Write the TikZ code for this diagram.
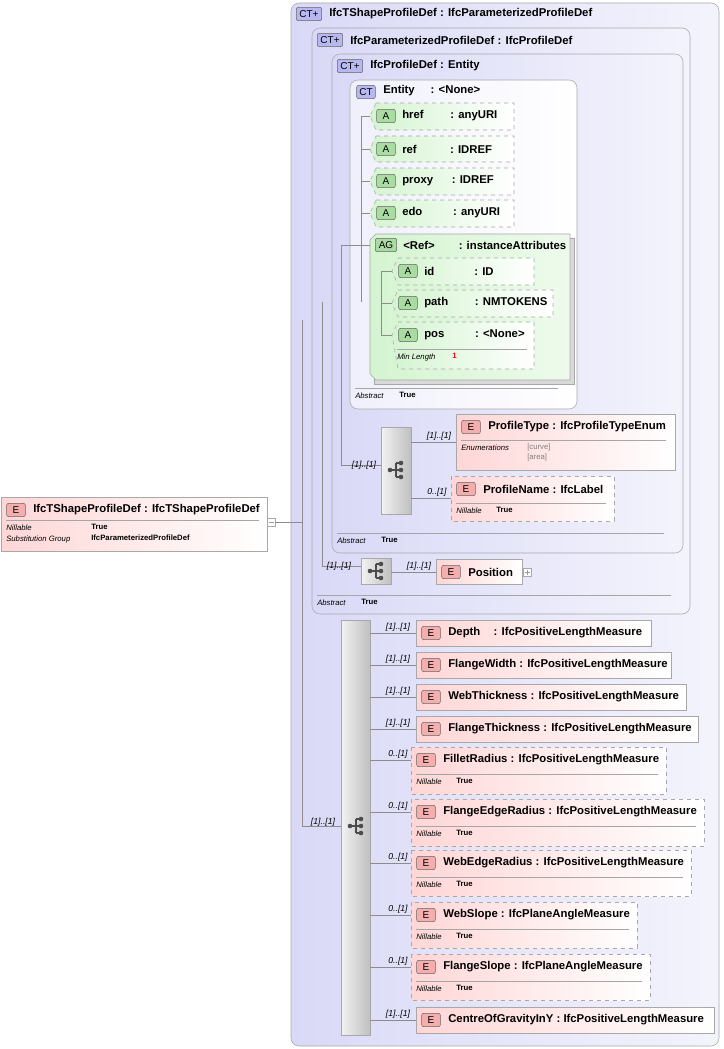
\documentclass[tikz,border=0pt]{standalone}
\usepackage{fontspec}
\setmainfont{Liberation Sans}
\usetikzlibrary{calc}
\definecolor{ctfill}{HTML}{D9D9F7}
\definecolor{efill}{HTML}{FFD6D6}
\definecolor{afill}{HTML}{D4F4D0}
\definecolor{bord}{HTML}{A8A8A8}
\definecolor{ctbadge}{HTML}{B8B8F0}
\definecolor{ebadge}{HTML}{F4AEAE}
\definecolor{abadge}{HTML}{A8DCA0}
\tikzset{
  ct/.style={draw=bord, rounded corners=6pt, left color=ctfill, right color=white!70!ctfill},
  ctw/.style={draw=bord, rounded corners=6pt, left color=ctfill!40, right color=white},
  el/.style={draw=bord, left color=efill, right color=white},
  eld/.style={el, dashed},
  attrb/.style={draw=bord, dashed, left color=afill, right color=white},
  agrp/.style={draw=bord, left color=afill, right color=white!60!afill},
  sq/.style={draw=bord, left color=black!5, right color=black!25},
  badge/.style={draw=black!60, rounded corners=1.5pt, minimum width=14pt, minimum height=10pt, inner sep=0pt, font=\fontsize{7.5}{8}\selectfont},
  ttl/.style={anchor=west, inner sep=0pt, font=\bfseries\fontsize{8.5}{10}\selectfont},
  sm/.style={anchor=west, inner sep=0pt, font=\itshape\fontsize{5.8}{7}\selectfont},
  smb/.style={anchor=west, inner sep=0pt, font=\bfseries\fontsize{5.8}{7}\selectfont},
  mult/.style={inner sep=0pt, font=\itshape\fontsize{6.5}{7}\selectfont},
  ln/.style={draw=black!45, line width=0.5pt},
  sep/.style={draw=black!35, line width=0.4pt},
}
% element box: id, x1, y1, x2, y2, style, title
\newcommand\elt[7]{%
  \path[#6] (#2,#3) rectangle (#4,#5);
  \coordinate (#1) at (#2,{(#3+#5)/2});
  \coordinate (#1w) at (#2,#3+13);
  \node[badge, fill=ebadge] at (#2+15,#3+13) {E};
  \node[ttl] at (#2+32,#3+13) {#7};}
\newcommand\nil[3]{% x1, y1, x2
  \draw[sep] (#1+5,#2+27) -- (#3-8,#2+27);
  \node[sm] at (#1+5,#2+35) {Nillable};
  \node[smb] at (#1+45,#2+34) {True};}
\newcommand\attr[6]{% id x1 y1 x2 y2 title
  \path[attrb] (#2+6,#3) -- (#4,#3) -- (#4,#5) -- (#2+6,#5) -- (#2,#3+13) -- cycle;
  \coordinate (#1) at (#2,#3+13);
  \node[badge, fill=abadge] at (#2+16,#3+13) {A};
  \node[ttl] at (#2+32,#3+13) {#6};}
\newcommand\seqicon[1]{%
  \begin{scope}[shift={(#1)}]
    \draw[black!70, line width=0.8pt] (-6,0) -- (0,0) (0,-7) -- (0,7) (0,-7) -- (5,-7) (0,0) -- (5,0) (0,7) -- (5,7);
    \fill[black!70] (-6,0) circle (2.3) (5,-7) circle (2.3) (5,0) circle (2.3) (5,7) circle (2.3);
  \end{scope}}
\begin{document}
\begin{tikzpicture}[x=0.75pt, y=-0.75pt]
\useasboundingbox (0,0) rectangle (724,1049);
% nested complex types
\path[ct] (291,3) rectangle (719,1046);
\node[badge, fill=ctbadge, minimum width=19pt] at (309,14) {CT+};
\node[ttl] at (329,14) {IfcTShapeProfileDef : IfcParameterizedProfileDef};
\path[ct] (312,28) rectangle (690,614);
\node[badge, fill=ctbadge, minimum width=19pt] at (330,40) {CT+};
\node[ttl] at (350,40) {IfcParameterizedProfileDef : IfcProfileDef};
\draw[sep] (317,595) -- (671,595);
\node[sm] at (317,603) {Abstract};
\node[smb] at (361,602) {True};
\path[ct] (332,54) rectangle (683,553);
\node[badge, fill=ctbadge, minimum width=19pt] at (350,66) {CT+};
\node[ttl] at (370,66) {IfcProfileDef : Entity};
\draw[sep] (337,533) -- (664,533);
\node[sm] at (337,541) {Abstract};
\node[smb] at (381,540) {True};
\path[ctw] (350,80) rectangle (577,409);
\node[badge, fill=ctbadge] at (366,92) {CT};
\node[ttl] at (383,91) {Entity\hspace{12pt}: <None>};
\draw[sep] (355,388) -- (558,388);
\node[sm] at (355,396) {Abstract};
\node[smb] at (399,395) {True};
% attributes
\attr{href}{370}{103}{514}{130}{href\hspace{20pt}: anyURI}
\attr{ref}{370}{136}{514}{162}{ref\hspace{25pt}: IDREF}
\attr{proxy}{370}{168}{514}{195}{proxy\hspace{14pt}: IDREF}
\attr{edo}{370}{200}{514}{227}{edo\hspace{23pt}: anyURI}
\path[draw=bord, fill=black!15] (374,238) rectangle (574,384);
\path[agrp] (376,234) -- (570,234) -- (570,380) -- (376,380) -- (370,374) -- (370,240) -- cycle;
\coordinate (ag) at (370,245);
\node[badge, fill=abadge, minimum width=16pt] at (386,245) {AG};
\node[ttl] at (403,245) {<Ref>\hspace{18pt}: instanceAttributes};
\attr{id}{392}{258}{534}{285}{id\hspace{30pt}: ID}
\attr{path}{392}{290}{553}{317}{path\hspace{20pt}: NMTOKENS}
\attr{pos}{392}{322}{534}{369}{pos\hspace{23pt}: <None>}
\draw[sep] (397,349) -- (527,349);
\node[sm] at (397,357) {Min Length};
\node[smb, text=red] at (452,356) {1};
% attribute tree
\draw[ln] (361,116) -- (361,302);
\foreach \n/\y in {href/116,ref/149,proxy/181,edo/213} \draw[ln] (361,\y) -- (\n);
\draw[ln] (361,245) -- (ag);
\draw[ln] (381,271) -- (381,335);
\foreach \n/\y in {id/271,path/303,pos/335} \draw[ln] (381,\y) -- (\n);
\draw[ln] (341,245) -- (361,245);
% sequence of IfcProfileDef
\path[sq] (381,427) rectangle (411,514);
\coordinate (sq1) at (381,465);
\seqicon{396,470}
\draw[ln] (341,245) -- (341,465) -- (sq1);
\node[mult] at (364,465) {[1]..[1]};
\elt{ptype}{456}{414}{675}{470}{el}{ProfileType : IfcProfileTypeEnum}
\draw[sep] (461,440) -- (666,440);
\node[sm] at (461,448) {Enumerations};
\node[anchor=west, inner sep=0pt, font=\fontsize{5.8}{7}\selectfont, text=black!50] at (527,447) {[curve]};
\node[anchor=west, inner sep=0pt, font=\fontsize{5.8}{7}\selectfont, text=black!50] at (527,457) {[area]};
\elt{pname}{451}{476}{614}{521}{eld}{ProfileName : IfcLabel}
\nil{451}{476}{614}
\draw[ln] (411,442) -- (ptype);
\node[mult] at (439,436) {[1]..[1]};
\draw[ln] (411,498.5) -- (pname);
\node[mult] at (437,492) {0..[1]};
% sequence of IfcParameterizedProfileDef
\draw[ln] (322,302) -- (322,566) -- (361,566);
\node[mult] at (339,566) {[1]..[1]};
\path[sq] (361,558) rectangle (391,584);
\seqicon{376,571}
\elt{pos2}{436}{559}{522}{584}{el}{Position}
\draw[ln] (391,572) -- (pos2w);
\node[mult] at (419,566) {[1]..[1]};
\draw[draw=bord, fill=white] (523,568) rectangle (531,576);
\draw[black!40] (524.5,572) -- (529.5,572) (527,569.5) -- (527,574.5);
% root element
\elt{root}{1}{497}{267}{551}{el}{IfcTShapeProfileDef : IfcTShapeProfileDef}
\draw[sep] (6,520) -- (259,520);
\node[sm] at (6,528) {Nillable};
\node[smb] at (91,527) {True};
\node[sm] at (6,539) {Substitution Group};
\node[smb] at (91,538) {IfcParameterizedProfileDef};
\draw[draw=bord, fill=white] (267,518) rectangle (275,526);
\draw[black!40] (268.5,522) -- (273.5,522);
\draw[ln] (275,522) -- (302,522);
\draw[ln] (302,320) -- (302,826) -- (341,826);
\node[mult] at (323,822) {[1]..[1]};
% sequence of IfcTShapeProfileDef
\path[sq] (341,620) rectangle (370,1035);
\seqicon{356,826}
\foreach \id/\xa/\ya/\xb/\yb/\st/\m/\t in {
  depth/416/620/651/646/el/{[1]..[1]}/{Depth\hspace{10pt}: IfcPositiveLengthMeasure},
  fw/416/652/671/678/el/{[1]..[1]}/{FlangeWidth : IfcPositiveLengthMeasure},
  wt/416/684/686/710/el/{[1]..[1]}/{WebThickness : IfcPositiveLengthMeasure},
  ft/416/716/698/742/el/{[1]..[1]}/{FlangeThickness : IfcPositiveLengthMeasure},
  fr/411/747/666/794/eld/{0..[1]}/{FilletRadius : IfcPositiveLengthMeasure},
  fer/411/799/704/846/eld/{0..[1]}/{FlangeEdgeRadius : IfcPositiveLengthMeasure},
  wer/411/850/691/896/eld/{0..[1]}/{WebEdgeRadius : IfcPositiveLengthMeasure},
  ws/411/902/637/948/eld/{0..[1]}/{WebSlope : IfcPlaneAngleMeasure},
  fs/411/954/650/1000/eld/{0..[1]}/{FlangeSlope : IfcPlaneAngleMeasure},
  cg/416/1007/714/1033/el/{[1]..[1]}/{CentreOfGravityInY : IfcPositiveLengthMeasure}} {
  \elt{\id}{\xa}{\ya}{\xb}{\yb}{\st}{\t}
  \draw[ln] (370,\ya+13) -- (\id w);
  \node[mult] at (398,\ya+7) {\m};
}
\foreach \xa/\ya/\xb in {411/747/666,411/799/704,411/850/691,411/902/637,411/954/650} {\nil{\xa}{\ya}{\xb}}
\end{tikzpicture}
\end{document}
